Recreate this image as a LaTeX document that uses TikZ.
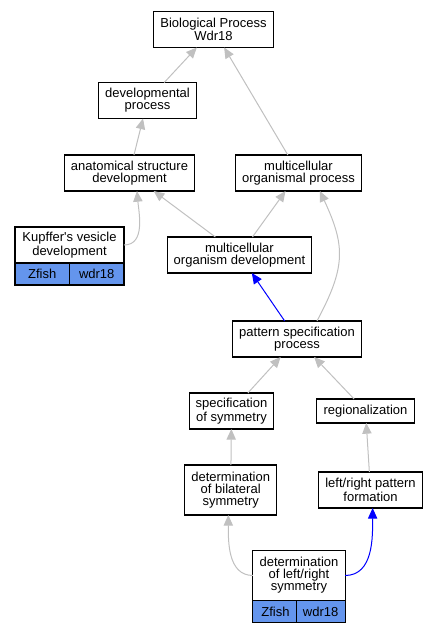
\documentclass[tikz,border=0pt]{standalone}
\usepackage{fontspec}
\setmainfont{Liberation Sans}
\usetikzlibrary{positioning,arrows.meta}
\definecolor{cellblue}{RGB}{100,149,237}
\definecolor{linkgray}{RGB}{192,192,192}
\tikzstyle{term} = [rectangle, draw=black, fill=white, line width=0.8pt, align=center, inner xsep=5pt, inner ysep=0pt, outer sep=0pt, minimum height=27pt, font=\fontsize{9.75}{9}\selectfont]
\tikzstyle{cell} = [term, fill=cellblue, minimum height=16.5pt]
\tikzstyle{link} = [draw=linkgray, line width=0.75pt, -{Triangle[length=8pt,width=7pt]}]
\tikzstyle{bluelink} = [link, draw=blue]

\begin{document}
\begin{tikzpicture}[x=0.75pt,y=0.75pt]
\useasboundingbox (0,0) rectangle (437,-632);
			\node (bp) [term] at (213.5,-29.5) {Biological Process\\Wdr18};
			\node (devproc) [term] at (147.5,-100.5) {developmental\\process};
			\node (anat) [term] at (129.5,-173) {anatomical structure\\development};
			\node (mop) [term] at (298.5,-173) {multicellular\\organismal process};
			\node (kv) [term, minimum width=81.75pt] at (69.5,-245) {Kupffer\textquotesingle s vesicle\\development};
			\node (kvzfish) [cell, minimum width=40.875pt, below=0pt of kv.south west, anchor=north west] {Zfish};
			\node (kvwdr) [cell, minimum width=40.875pt, below=0pt of kv.south east, anchor=north east] {wdr18};
			\node (mod) [term] at (239.5,-255) {multicellular\\organism development};
			\node (psp) [term] at (297,-339) {pattern specification\\process};
			\node (specsym) [term] at (231.5,-411) {specification\\of symmetry};
			\node (region) [term, minimum height=18pt] at (365.5,-411) {regionalization};
			\node (detbil) [term, minimum height=37.5pt] at (230.7,-490) {determination\\of bilateral\\symmetry};
			\node (lrpf) [term] at (370.5,-490) {left/right pattern\\formation};
			\node (dlr) [term, minimum height=37.5pt, minimum width=67.5pt] at (299,-575.5) {determination\\of left/right\\symmetry};
			\node (dlrzfish) [cell, minimum width=33.75pt, below=0pt of dlr.south west, anchor=north west] {Zfish};
			\node (dlrwdr) [cell, minimum width=33.75pt, below=0pt of dlr.south east, anchor=north east] {wdr18};
			
			\draw [link] (devproc) -- (bp);
			\draw [link] (mop) -- (bp);
			\draw [link] (anat) -- (devproc);
			\draw [link] (kv.east) to [out=0,in=-85] ([xshift=5.6pt]anat.south);
			\draw [link] (mod) -- (anat);
			\draw [link] (mod) -- (mop);
			\draw [bluelink] (psp) -- (mod);
			\draw [link] ([xshift=15pt]psp.north) to [out=62,in=-65,looseness=1.2] ([xshift=16pt]mop.south);
			\draw [link] (specsym) -- (psp);
			\draw [link] (region) -- (psp);
			\draw [link] (detbil) -- (specsym);
			\draw [link] (lrpf) -- (region);
			\draw [link] (dlr.west) to [out=180,in=-90] ([xshift=-1.8pt]detbil.south);
			\draw [bluelink] (dlr.east) to [out=0,in=-90] ([xshift=1.6pt]lrpf.south);
\end{tikzpicture}
\end{document}
